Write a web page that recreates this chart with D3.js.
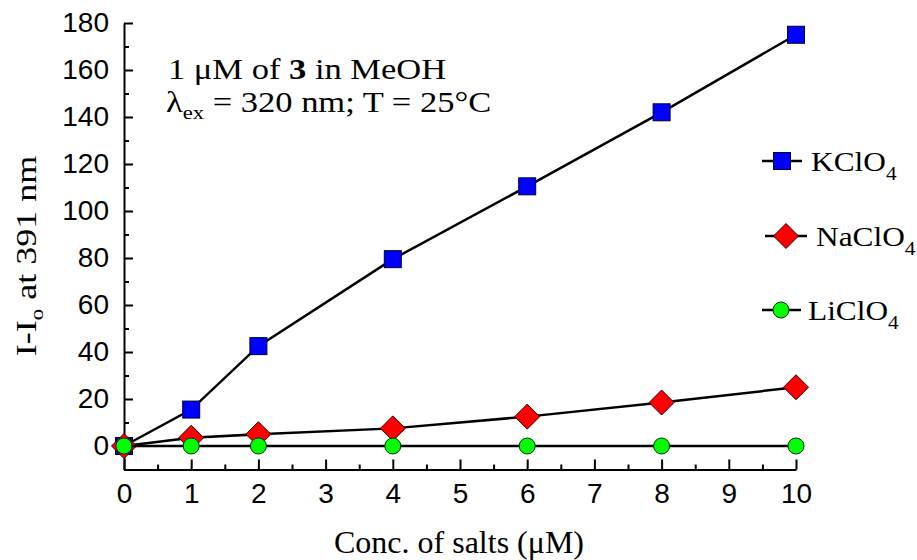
<!DOCTYPE html>
<html>
<head>
<meta charset="utf-8">
<script src="https://cdn.jsdelivr.net/npm/d3@7"></script>
<style>
  html, body { margin: 0; padding: 0; background: #fff; }
  svg { display: block; }
</style>
</head>
<body>
<svg id="chart" width="917" height="560"></svg>
<script>
// ---- data ----
const concentrations = [0, 1, 2, 4, 6, 8, 10];
const kclo4 = [0, 15.5, 42.5, 79.5, 110.5, 142, 175];
const naclo4 = [0, 3.5, 5, 7.5, 12.5, 18.5, 25];
const liclo4 = [0, 0, 0, 0, 0, 0, 0];
const xTickValues = [0, 1, 2, 3, 4, 5, 6, 7, 8, 9, 10];
const yTickValues = [0, 20, 40, 60, 80, 100, 120, 140, 160, 180];
const seriesNames = ["KClO", "NaClO", "LiClO"];
const seriesColors = ["#0000ff", "#ff0000", "#00ff00"];
const seriesShapes = ["square", "diamond", "circle"];

const svg = d3.select("#chart");
const x = d3.scaleLinear().domain([0, 10]).range([124, 796]);
const y = d3.scaleLinear().domain([-10, 180]).range([469.5, 23]);

const tickFont = "'Liberation Sans', Arial, sans-serif";
const serif = "'Liberation Serif', 'Times New Roman', serif";

// minor ticks
svg.append("g").attr("transform", `translate(0,${y(-10)})`)
  .call(d3.axisBottom(x).tickValues(d3.range(0.5, 10, 1)).tickSize(-5).tickSizeOuter(0).tickFormat(""))
  .call(g => g.select(".domain").remove())
  .call(g => g.selectAll("line").attr("stroke", "#000").attr("stroke-width", 2));
svg.append("g").attr("transform", `translate(${x(0)},0)`)
  .call(d3.axisLeft(y).tickValues(d3.range(-10, 180, 20)).tickSize(-5).tickSizeOuter(0).tickFormat(""))
  .call(g => g.select(".domain").remove())
  .call(g => g.selectAll("line").attr("stroke", "#000").attr("stroke-width", 2));

// major axes
const xAxis = svg.append("g").attr("transform", `translate(0,${y(-10)})`)
  .call(d3.axisBottom(x).tickValues(xTickValues).tickSize(-10).tickSizeOuter(0).tickPadding(14).tickFormat(d3.format("d")));
const yAxis = svg.append("g").attr("transform", `translate(${x(0)},0)`)
  .call(d3.axisLeft(y).tickValues(yTickValues).tickSize(-9).tickSizeOuter(0).tickPadding(15).tickFormat(d3.format("d")));
[xAxis, yAxis].forEach(g => {
  g.select(".domain").attr("stroke", "#000").attr("stroke-width", 2);
  g.selectAll("line").attr("stroke", "#000").attr("stroke-width", 2);
  g.selectAll("text").attr("font-family", tickFont).attr("font-size", 28).attr("fill", "#000");
});

// series
const allSeries = [kclo4, naclo4, liclo4];
const line = d3.line().x((d, i) => x(concentrations[i])).y(d => y(d));

function drawMarker(g, shape, color, cx, cy) {
  if (shape === "square") {
    g.append("rect").attr("x", cx - 8.5).attr("y", cy - 8.5).attr("width", 17).attr("height", 17)
      .attr("fill", color).attr("stroke", "#000033").attr("stroke-width", 1);
  } else if (shape === "diamond") {
    const r = 12.5;
    g.append("path").attr("d", `M${cx},${cy - r}L${cx + r},${cy}L${cx},${cy + r}L${cx - r},${cy}Z`)
      .attr("fill", color).attr("stroke", "#330000").attr("stroke-width", 1);
  } else {
    g.append("circle").attr("cx", cx).attr("cy", cy).attr("r", 8)
      .attr("fill", color).attr("stroke", "#003300").attr("stroke-width", 1);
  }
}

allSeries.forEach((vals, si) => {
  const g = svg.append("g");
  g.append("path").datum(vals).attr("d", line).attr("fill", "none")
    .attr("stroke", "#000").attr("stroke-width", 2.5);
  vals.forEach((v, i) => drawMarker(g, seriesShapes[si], seriesColors[si], x(concentrations[i]), y(v)));
});

// legend
const legendY = [161, 236, 310];
const legendX = [[762, 802, 782, 811], [765, 807, 786, 816], [762, 801, 781, 808]];
seriesNames.forEach((name, si) => {
  const g = svg.append("g");
  const [x1, x2, mx, tx] = legendX[si];
  g.append("line").attr("x1", x1).attr("x2", x2).attr("y1", legendY[si]).attr("y2", legendY[si])
    .attr("stroke", "#000").attr("stroke-width", 2.5);
  drawMarker(g, seriesShapes[si], seriesColors[si], mx, legendY[si]);
  const t = g.append("text").attr("transform", `translate(${tx},${legendY[si] + 10}) scale(1.12,1)`)
    .attr("font-family", serif).attr("font-size", 28).attr("fill", "#000");
  t.append("tspan").text(name);
  t.append("tspan").attr("dy", 9).attr("font-size", 19).text("4");
});

// annotation
const a1 = svg.append("text").attr("transform", "translate(168,79) scale(1.19,1)")
  .attr("font-family", serif).attr("font-size", 29).attr("fill", "#000");
a1.append("tspan").text("1 μM of ");
a1.append("tspan").attr("font-weight", "bold").text("3");
a1.append("tspan").text(" in MeOH");
const a2 = svg.append("text").attr("transform", "translate(166,112) scale(1.19,1)")
  .attr("font-family", serif).attr("font-size", 29).attr("fill", "#000");
a2.append("tspan").text("λ");
a2.append("tspan").attr("dy", 7).attr("font-size", 19).text("ex");
a2.append("tspan").attr("dy", -7).text(" = 320 nm; T = 25°C");

// axis titles
svg.append("text").attr("x", 459).attr("y", 553).attr("text-anchor", "middle")
  .attr("font-family", serif).attr("font-size", 32).attr("fill", "#000")
  .text("Conc. of salts (μM)");
const yt = svg.append("text").attr("transform", "translate(36,256) rotate(-90) scale(1.2,1)").attr("text-anchor", "middle")
  .attr("font-family", serif).attr("font-size", 30).attr("fill", "#000");
yt.append("tspan").text("I-I");
yt.append("tspan").attr("dy", 7).attr("font-size", 19).text("o");
yt.append("tspan").attr("dy", -7).text(" at 391 nm");
</script>
</body>
</html>
